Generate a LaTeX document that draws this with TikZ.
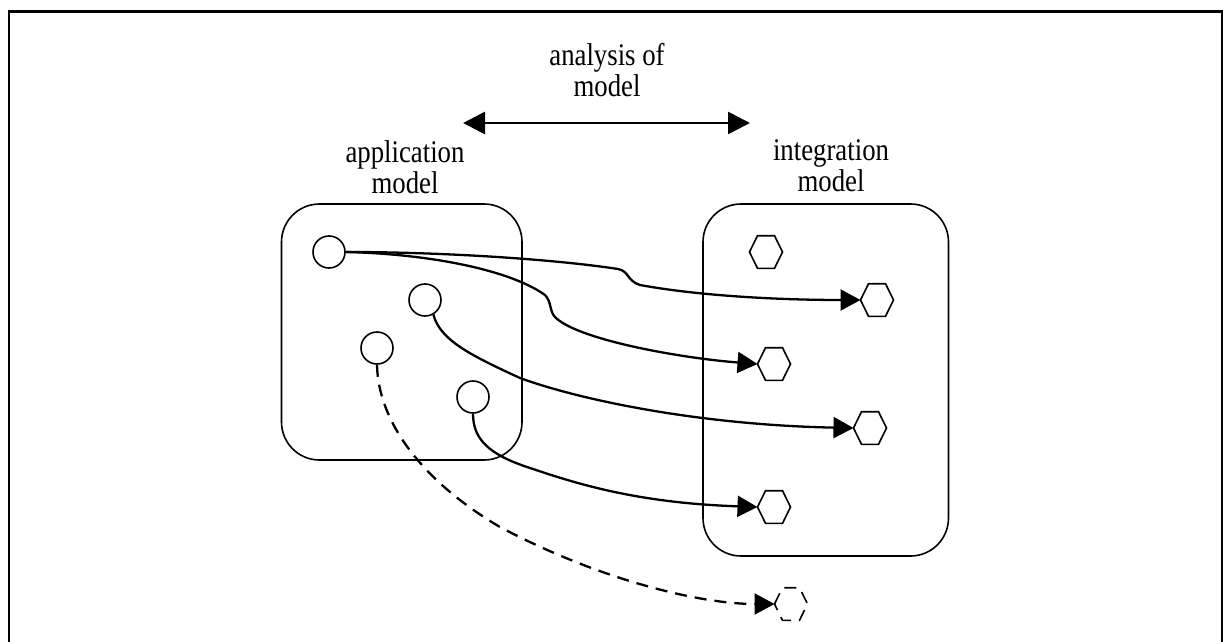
\documentclass[tikz,border=0pt]{standalone}
\usepackage{fontspec}
\setmainfont{Liberation Serif}[FakeStretch=0.85]
\usetikzlibrary{arrows.meta}

\begin{document}
\begin{tikzpicture}[x=1pt,y=-1pt,
  lbl/.style={align=center,inner sep=0pt,font=\fontsize{31.5}{31}\selectfont},
  modelbox/.style={draw,rectangle,line width=1.6pt,rounded corners=38pt,inner sep=0pt},
  src/.style={circle,draw,fill=white,line width=1.6pt,minimum size=32pt,inner sep=0pt},
  link/.style={line width=2.3pt,-{Triangle[length=20pt,width=21pt]}},
  ghost/.style={dash pattern=on 12pt off 8pt},
  hex/.pic={
    \draw[line width=1.6pt,fill=white,pic actions]
      (-16.5,0) -- (-8.5,-16.3) -- (8.5,-16.3) -- (16.5,0) -- (8.5,16.3) -- (-8.5,16.3) -- cycle;
    \coordinate (-w) at (-16.5,0);
  },
]
\useasboundingbox (0,0) rectangle (1223,642);

% outer frame, open at the bottom
\draw[line width=2.7pt] (9,642) -- (9,11.3) -- (1222,11.3) -- (1222,642);

% the two models
\node[modelbox,minimum width=240.5pt,minimum height=256pt] (appbox) at (401.75,332) {};
\node[modelbox,minimum width=245.5pt,minimum height=352pt] (intbox) at (825.75,380) {};

% labels
\node[lbl] (anlabel) at (607,70) {analysis of\\model};
\node[lbl] (applabel) at (405,167) {application\\model};
\node[lbl] (intlabel) at (831,166) {integration\\model};

% analysis arrow
\coordinate (anL) at (463,123);
\coordinate (anR) at (750,123);
\draw[line width=2.7pt,{Triangle[length=22pt,width=22pt]}-{Triangle[length=22pt,width=22pt]}] (anL) -- (anR);

% elements of the application model
\node[src] (c1) at (329,252) {};
\node[src] (c2) at (425,300) {};
\node[src] (c3) at (377,348) {};
\node[src] (c4) at (473,397) {};

% elements of the integration model
\pic (h0) at (766,252) {hex};
\pic (h1) at (877,300) {hex};
\pic (h2) at (774,364) {hex};
\pic (h3) at (870,428) {hex};
\pic (h4) at (774,507) {hex};
\pic[ghost] (h5) at (791,604) {hex};

% mappings
\draw[link] (c1.east) .. controls (450,252) and (560,260) .. (618,269)
  .. controls (629,271) and (627,281) .. (640,285)
  .. controls (700,296) and (780,300) .. (h1-w);
\draw[link] (c1.east) .. controls (430,254) and (510,270) .. (545,295)
  .. controls (552,302) and (549,312) .. (556,318)
  .. controls (580,340) and (680,358) .. (h2-w);
\draw[link] (c2.-60) .. controls (440,340) and (470,355) .. (520,378)
  .. controls (580,400) and (700,425) .. (h3-w);
\draw[link] (c4.south) .. controls (473,440) and (490,455) .. (530,468)
  .. controls (580,485) and (640,503) .. (h4-w);
\draw[link,ghost] (c3.south) .. controls (378,420) and (420,480) .. (500,527)
  .. controls (600,580) and (700,604) .. (h5-w);
\end{tikzpicture}
\end{document}
